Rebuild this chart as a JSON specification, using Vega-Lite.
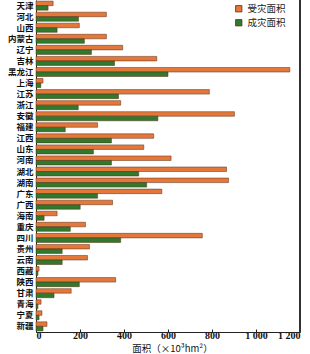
{
  "$schema": "https://vega.github.io/schema/vega-lite/v6.json",
  "width": 264,
  "height": 332,
  "autosize": {"type": "none"},
  "padding": {"left": 36, "top": 0, "right": 10, "bottom": 22},
  "background": "white",
  "config": {"view": {"stroke": null}},
  "data": {"values": [
    {"p": "天津", "t": "受灾面积", "v": 78}, {"p": "天津", "t": "成灾面积", "v": 55},
    {"p": "河北", "t": "受灾面积", "v": 320}, {"p": "河北", "t": "成灾面积", "v": 193},
    {"p": "山西", "t": "受灾面积", "v": 197}, {"p": "山西", "t": "成灾面积", "v": 96},
    {"p": "内蒙古", "t": "受灾面积", "v": 320}, {"p": "内蒙古", "t": "成灾面积", "v": 220},
    {"p": "辽宁", "t": "受灾面积", "v": 394}, {"p": "辽宁", "t": "成灾面积", "v": 252},
    {"p": "吉林", "t": "受灾面积", "v": 549}, {"p": "吉林", "t": "成灾面积", "v": 357},
    {"p": "黑龙江", "t": "受灾面积", "v": 1154}, {"p": "黑龙江", "t": "成灾面积", "v": 600},
    {"p": "上海", "t": "受灾面积", "v": 32}, {"p": "上海", "t": "成灾面积", "v": 22},
    {"p": "江苏", "t": "受灾面积", "v": 788}, {"p": "江苏", "t": "成灾面积", "v": 375},
    {"p": "浙江", "t": "受灾面积", "v": 385}, {"p": "浙江", "t": "成灾面积", "v": 192},
    {"p": "安徽", "t": "受灾面积", "v": 902}, {"p": "安徽", "t": "成灾面积", "v": 554},
    {"p": "福建", "t": "受灾面积", "v": 280}, {"p": "福建", "t": "成灾面积", "v": 133},
    {"p": "江西", "t": "受灾面积", "v": 535}, {"p": "江西", "t": "成灾面积", "v": 343},
    {"p": "山东", "t": "受灾面积", "v": 490}, {"p": "山东", "t": "成灾面积", "v": 261},
    {"p": "河南", "t": "受灾面积", "v": 614}, {"p": "河南", "t": "成灾面积", "v": 343},
    {"p": "湖北", "t": "受灾面积", "v": 866}, {"p": "湖北", "t": "成灾面积", "v": 467},
    {"p": "湖南", "t": "受灾面积", "v": 875}, {"p": "湖南", "t": "成灾面积", "v": 503},
    {"p": "广东", "t": "受灾面积", "v": 572}, {"p": "广东", "t": "成灾面积", "v": 280},
    {"p": "广西", "t": "受灾面积", "v": 348}, {"p": "广西", "t": "成灾面积", "v": 201},
    {"p": "海南", "t": "受灾面积", "v": 96}, {"p": "海南", "t": "成灾面积", "v": 37},
    {"p": "重庆", "t": "受灾面积", "v": 225}, {"p": "重庆", "t": "成灾面积", "v": 156},
    {"p": "四川", "t": "受灾面积", "v": 756}, {"p": "四川", "t": "成灾面积", "v": 385},
    {"p": "贵州", "t": "受灾面积", "v": 243}, {"p": "贵州", "t": "成灾面积", "v": 119},
    {"p": "云南", "t": "受灾面积", "v": 234}, {"p": "云南", "t": "成灾面积", "v": 119},
    {"p": "西藏", "t": "受灾面积", "v": 14}, {"p": "西藏", "t": "成灾面积", "v": 9},
    {"p": "陕西", "t": "受灾面积", "v": 362}, {"p": "陕西", "t": "成灾面积", "v": 197},
    {"p": "甘肃", "t": "受灾面积", "v": 160}, {"p": "甘肃", "t": "成灾面积", "v": 82},
    {"p": "青海", "t": "受灾面积", "v": 23}, {"p": "青海", "t": "成灾面积", "v": 9},
    {"p": "宁夏", "t": "受灾面积", "v": 27}, {"p": "宁夏", "t": "成灾面积", "v": 14},
    {"p": "新疆", "t": "受灾面积", "v": 50}, {"p": "新疆", "t": "成灾面积", "v": 32}
  ]},
  "layer": [
    {
      "mark": {"type": "bar", "stroke": "#5a2a14", "strokeWidth": 0.5},
      "encoding": {
        "y": {"field": "p", "type": "nominal", "sort": null,
              "scale": {"paddingInner": 0.18, "paddingOuter": 0.1},
              "axis": {"title": null, "labelFont": "Noto Sans CJK SC", "labelFontSize": 8.5, "labelColor": "#111", "labelFontWeight": "bold",
                       "labelOverlap": false, "ticks": false, "domain": true, "domainColor": "#222", "labelPadding": 3}},
        "x": {"field": "v", "type": "quantitative", "scale": {"domain": [0, 1200], "nice": false},
              "axis": {"values": [0, 200, 400, 600, 800, 1000, 1200], "grid": false,
                       "labelExpr": "replace(format(datum.value, ','), ',', ' ')",
                       "labelFont": "Liberation Serif", "labelFontSize": 10, "labelColor": "#111", "labelFontWeight": "bold",
                       "tickSize": -3, "tickColor": "#222", "domainColor": "#222", "labelPadding": 1,
                       "title": "面积（×10³hm²）", "titleFont": "Noto Sans CJK SC", "titleFontSize": 9.5, "titleFontWeight": "normal",
                       "titleColor": "#111", "titleX": 136, "titleY": 11, "titleAlign": "center", "titleAnchor": null, "titleBaseline": "top"}},
        "yOffset": {"field": "t", "type": "nominal", "sort": ["受灾面积", "成灾面积"], "scale": {"paddingInner": 0}},
        "color": {"field": "t", "type": "nominal", "sort": ["受灾面积", "成灾面积"],
                  "scale": {"domain": ["受灾面积", "成灾面积"], "range": ["#e4783a", "#2f7a2c"]},
                  "legend": {"title": null, "orient": "none", "legendX": 198, "legendY": 4,
                             "symbolType": "square", "symbolSize": 40, "symbolStrokeColor": "#5a2a14", "symbolStrokeWidth": 0.8,
                             "labelFont": "Noto Sans CJK SC", "labelFontSize": 9.5, "labelColor": "#222", "rowPadding": 3}}
      }
    },
    {
      "mark": {"type": "rule", "color": "#333", "strokeWidth": 1},
      "encoding": {"x": {"datum": 1200}}
    }
  ]
}
